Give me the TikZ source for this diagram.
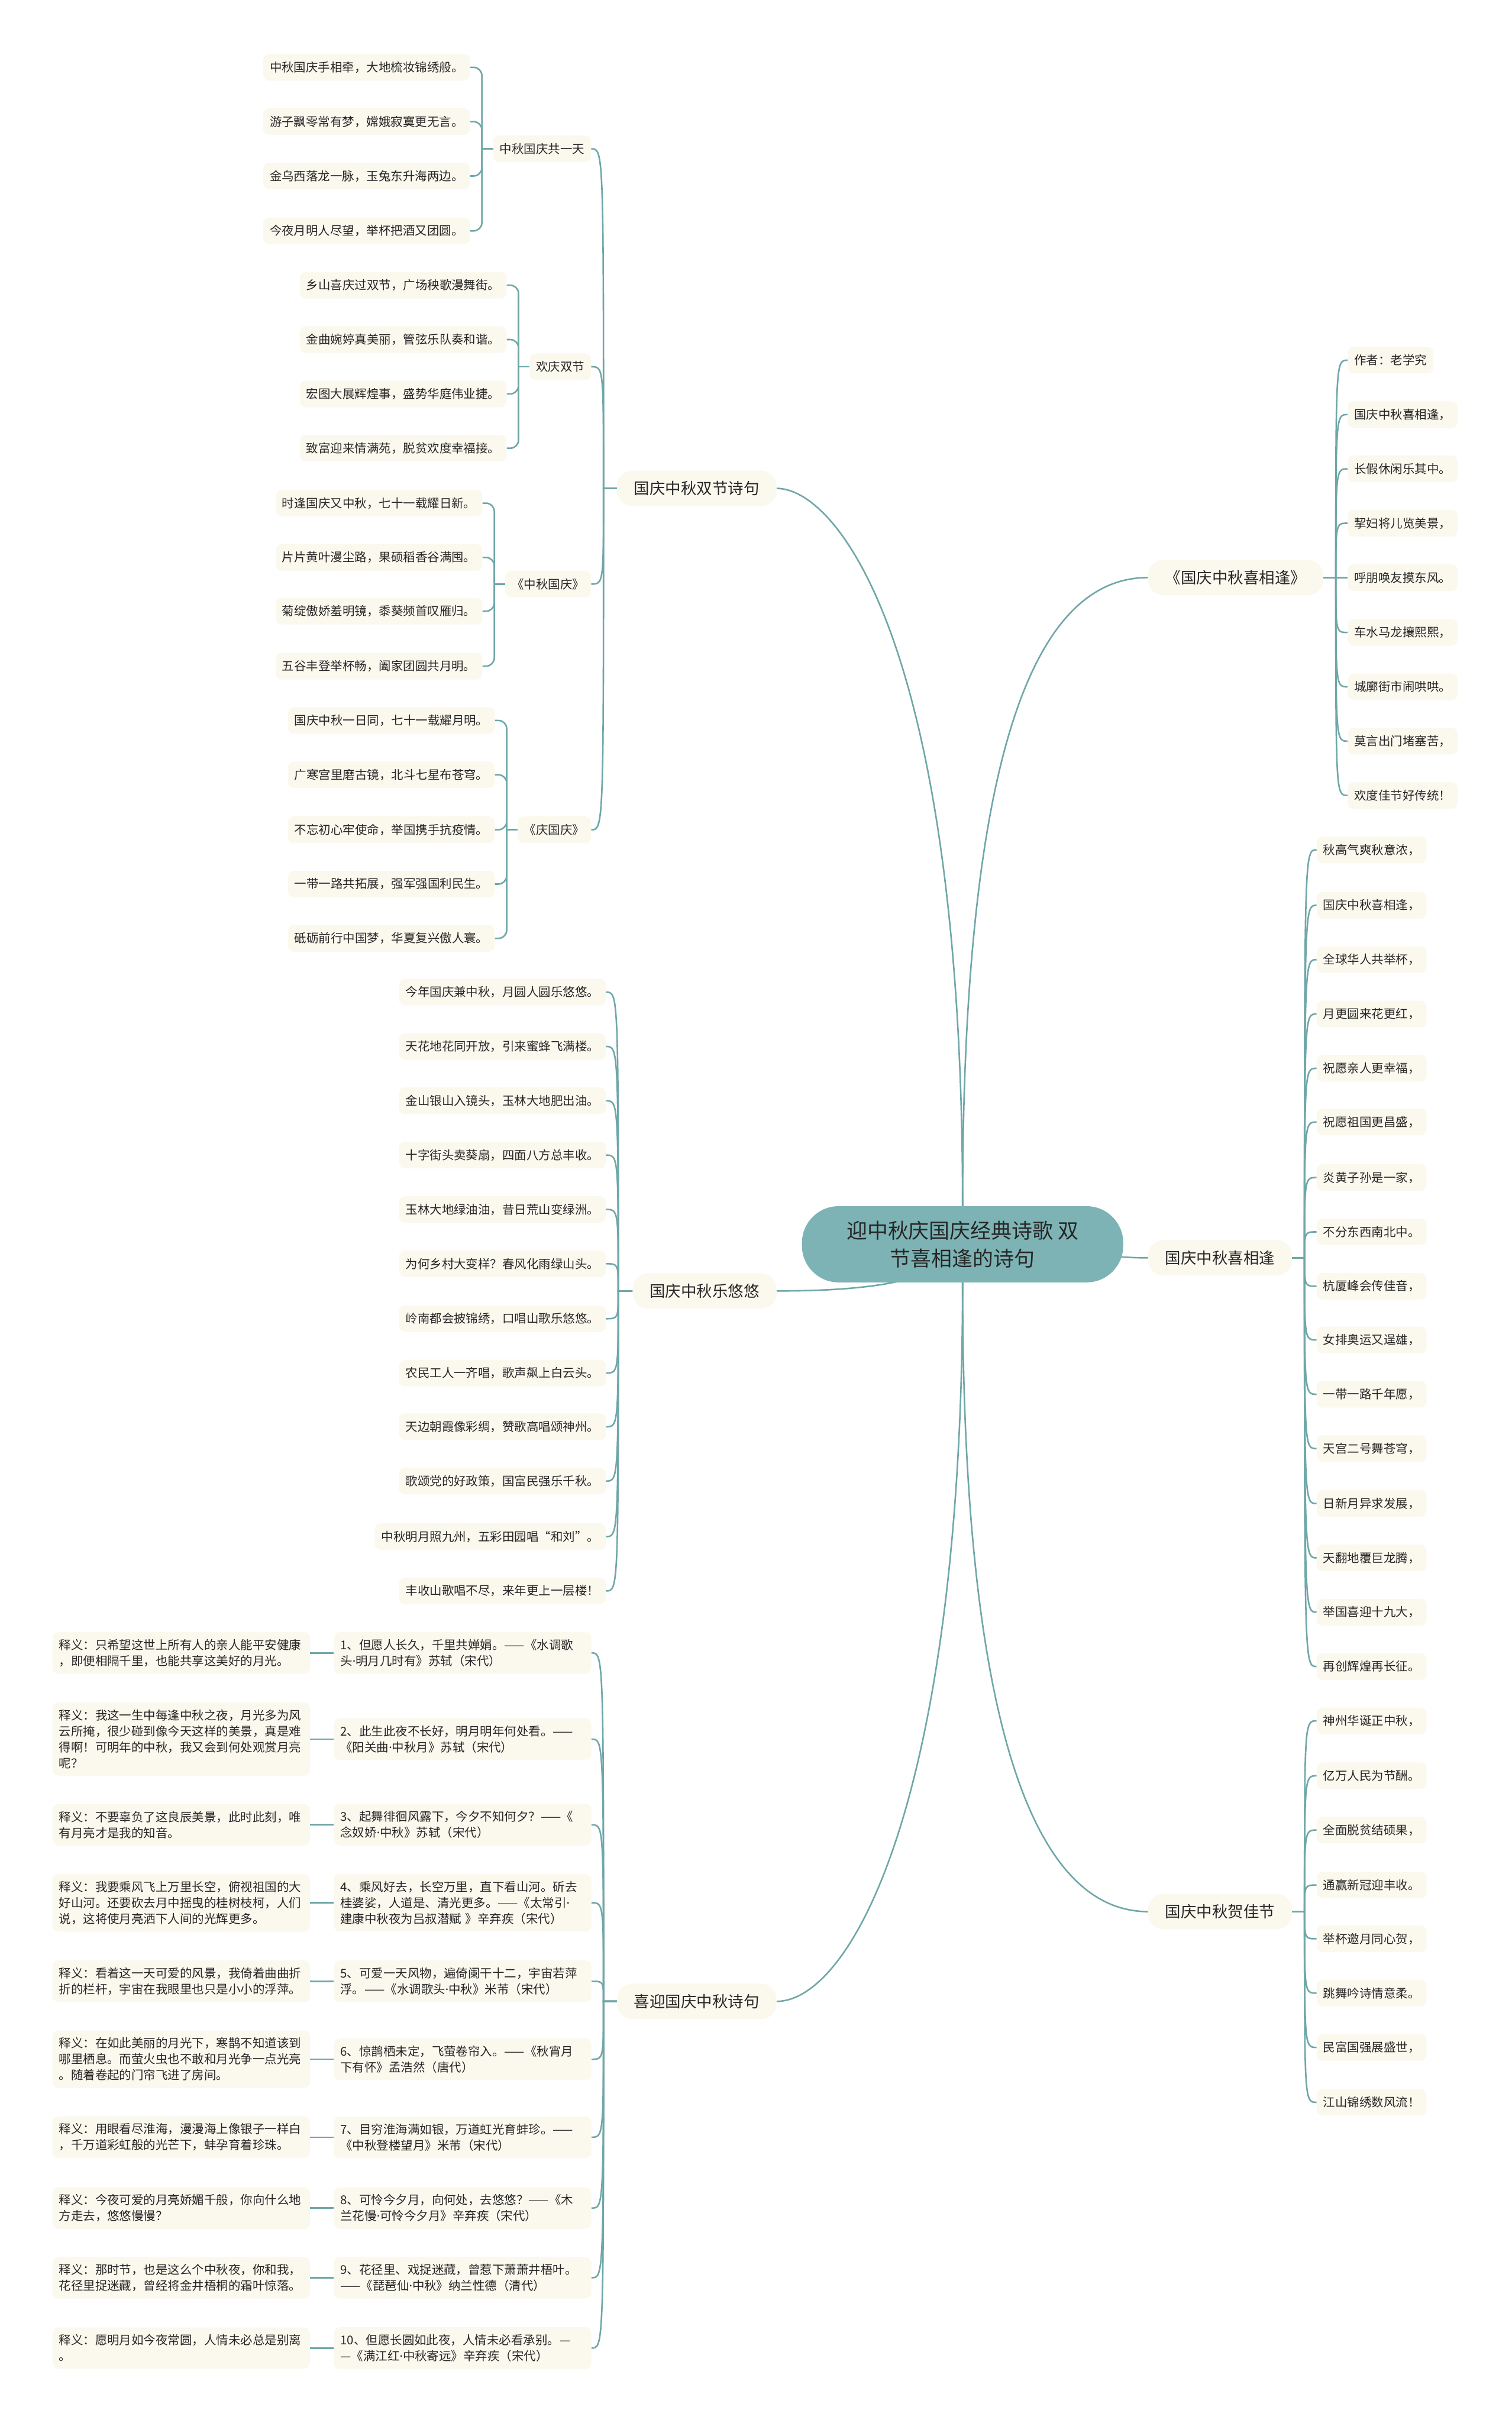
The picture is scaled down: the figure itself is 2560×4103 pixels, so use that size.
\documentclass[tikz,border=0pt]{standalone}
\usepackage{fontspec}
\setmainfont{Noto Sans CJK SC}
\newfontfamily\latinfont{Noto Sans}
\newcommand{\mdot}{{\latinfont ·}}
\usetikzlibrary{backgrounds}
\definecolor{cream}{RGB}{251,248,238}
\definecolor{linec}{RGB}{111,167,168}
\definecolor{rootc}{RGB}{125,179,180}
\definecolor{ink}{RGB}{38,38,38}
\begin{document}
\begin{tikzpicture}[x=1pt,y=-1pt,
  leafbox/.style={fill=cream, rounded corners=10pt, inner xsep=11pt, inner ysep=0pt, minimum height=45pt, text=ink, font=\fontsize{20.5}{27}\selectfont},
  para/.style={fill=cream, rounded corners=10pt, inner xsep=11pt, inner ysep=12pt, text width=414pt, align=left, text=ink, font=\fontsize{20.5}{27}\selectfont},
  branch/.style={fill=cream, rounded corners=26pt, inner xsep=29pt, inner ysep=0pt, minimum height=60pt, text=ink, font=\fontsize{26.5}{32}\selectfont},
  rootbox/.style={fill=rootc, rounded corners=62pt, minimum width=544pt, minimum height=129pt, align=center, text=ink, font=\fontsize{35}{47}\selectfont},
  conn/.style={draw=linec, line width=2.6pt}
]
\begin{scope}[on background layer]
\fill[white] (0,0) rectangle (2560,4103);
\end{scope}
\useasboundingbox (0,0) rectangle (2560,4103);

% root
\node[rootbox] (root) at (1630,2107) {迎中秋庆国庆经典诗歌 双\\节喜相逢的诗句};

% level 1
\node[branch, anchor=east] (L1a) at (1315,827) {国庆中秋双节诗句};
\node[branch, anchor=east] (L1b) at (1315,2186) {国庆中秋乐悠悠};
\node[branch, anchor=east] (L1c) at (1315,3389) {喜迎国庆中秋诗句};
\node[branch, anchor=west] (R1a) at (1944,978) {《国庆中秋喜相逢》};
\node[branch, anchor=west] (R1b) at (1944,2130) {国庆中秋喜相逢};
\node[branch, anchor=west] (R1c) at (1944,3237) {国庆中秋贺佳节};

% level 2 (left top)
\node[leafbox, anchor=east] (pa) at (1001,252) {中秋国庆共一天};
\node[leafbox, anchor=east] (pb) at (1001,621) {欢庆双节};
\node[leafbox, anchor=east] (pc) at (1001,989) {《中秋国庆》};
\node[leafbox, anchor=east] (pd) at (1001,1405) {《庆国庆》};

\node[leafbox, anchor=east] (a1) at (796,114) {中秋国庆手相牵，大地梳妆锦绣般。};
\node[leafbox, anchor=east] (a2) at (796,206) {游子飘零常有梦，嫦娥寂寞更无言。};
\node[leafbox, anchor=east] (a3) at (796,298) {金乌西落龙一脉，玉兔东升海两边。};
\node[leafbox, anchor=east] (a4) at (796,391) {今夜月明人尽望，举杯把酒又团圆。};

\node[leafbox, anchor=east] (b1) at (858,483) {乡山喜庆过双节，广场秧歌漫舞街。};
\node[leafbox, anchor=east] (b2) at (858,575) {金曲婉婷真美丽，管弦乐队奏和谐。};
\node[leafbox, anchor=east] (b3) at (858,667) {宏图大展辉煌事，盛势华庭伟业捷。};
\node[leafbox, anchor=east] (b4) at (858,759) {致富迎来情满苑，脱贫欢度幸福接。};

\node[leafbox, anchor=east] (c1) at (817,852) {时逢国庆又中秋，七十一载耀日新。};
\node[leafbox, anchor=east] (c2) at (817,944) {片片黄叶漫尘路，果硕稻香谷满囤。};
\node[leafbox, anchor=east] (c3) at (817,1035) {菊绽傲娇羞明镜，黍葵频首叹雁归。};
\node[leafbox, anchor=east] (c4) at (817,1128) {五谷丰登举杯畅，阖家团圆共月明。};

\node[leafbox, anchor=east] (d1) at (838,1220) {国庆中秋一日同，七十一载耀月明。};
\node[leafbox, anchor=east] (d2) at (838,1312) {广寒宫里磨古镜，北斗七星布苍穹。};
\node[leafbox, anchor=east] (d3) at (838,1405) {不忘初心牢使命，举国携手抗疫情。};
\node[leafbox, anchor=east] (d4) at (838,1497) {一带一路共拓展，强军强国利民生。};
\node[leafbox, anchor=east] (d5) at (838,1589) {砥砺前行中国梦，华夏复兴傲人寰。};

% 乐悠悠
\node[leafbox, anchor=east] (y1) at (1026,1680) {今年国庆兼中秋，月圆人圆乐悠悠。};
\node[leafbox, anchor=east] (y2) at (1026,1772) {天花地花同开放，引来蜜蜂飞满楼。};
\node[leafbox, anchor=east] (y3) at (1026,1864) {金山银山入镜头，玉林大地肥出油。};
\node[leafbox, anchor=east] (y4) at (1026,1956) {十字街头卖葵扇，四面八方总丰收。};
\node[leafbox, anchor=east] (y5) at (1026,2048) {玉林大地绿油油，昔日荒山变绿洲。};
\node[leafbox, anchor=east] (y6) at (1026,2140) {为何乡村大变样？春风化雨绿山头。};
\node[leafbox, anchor=east] (y7) at (1026,2233) {岭南都会披锦绣，口唱山歌乐悠悠。};
\node[leafbox, anchor=east] (y8) at (1026,2325) {农民工人一齐唱，歌声飙上白云头。};
\node[leafbox, anchor=east] (y9) at (1026,2416) {天边朝霞像彩绸，赞歌高唱颂神州。};
\node[leafbox, anchor=east] (y10) at (1026,2508) {歌颂党的好政策，国富民强乐千秋。};
\node[leafbox, anchor=east] (y11) at (1026,2602) {中秋明月照九州，五彩田园唱“和刘”。};
\node[leafbox, anchor=east] (y12) at (1026,2694) {丰收山歌唱不尽，来年更上一层楼！};

% poems
\node[para, anchor=east] (p1) at (1001.6,2799) {1、但愿人长久，千里共婵娟。——《水调歌\\头\mdot 明月几时有》苏轼（宋代）};
\node[para, anchor=east] (p2) at (1001.6,2945) {2、此生此夜不长好，明月明年何处看。——\\《阳关曲\mdot 中秋月》苏轼（宋代）};
\node[para, anchor=east] (p3) at (1001.6,3090) {3、起舞徘徊风露下，今夕不知何夕？——《\\念奴娇\mdot 中秋》苏轼（宋代）};
\node[para, anchor=east] (p4) at (1001.6,3222) {4、乘风好去，长空万里，直下看山河。斫去\\桂婆娑，人道是、清光更多。——《太常引\mdot\\建康中秋夜为吕叔潜赋 》辛弃疾（宋代）};
\node[para, anchor=east] (p5) at (1001.6,3355) {5、可爱一天风物，遍倚阑干十二，宇宙若萍\\浮。——《水调歌头\mdot 中秋》米芾（宋代）};
\node[para, anchor=east] (p6) at (1001.6,3487) {6、惊鹊栖未定，飞萤卷帘入。——《秋宵月\\下有怀》孟浩然（唐代）};
\node[para, anchor=east] (p7) at (1001.6,3619) {7、目穷淮海满如银，万道虹光育蚌珍。——\\《中秋登楼望月》米芾（宋代）};
\node[para, anchor=east] (p8) at (1001.6,3739) {8、可怜今夕月，向何处，去悠悠？——《木\\兰花慢\mdot 可怜今夕月》辛弃疾（宋代）};
\node[para, anchor=east] (p9) at (1001.6,3857) {9、花径里、戏捉迷藏，曾惹下萧萧井梧叶。\\——《琵琶仙\mdot 中秋》纳兰性德（清代）};
\node[para, anchor=east] (p10) at (1001.6,3976) {10、但愿长圆如此夜，人情未必看承别。—\\—《满江红\mdot 中秋寄远》辛弃疾（宋代）};

% explanations
\node[para, anchor=east] (e1) at (525,2799) {释义：只希望这世上所有人的亲人能平安健康\\，即便相隔千里，也能共享这美好的月光。};
\node[para, anchor=east] (e2) at (525,2945) {释义：我这一生中每逢中秋之夜，月光多为风\\云所掩，很少碰到像今天这样的美景，真是难\\得啊！可明年的中秋，我又会到何处观赏月亮\\呢？};
\node[para, anchor=east] (e3) at (525,3090) {释义：不要辜负了这良辰美景，此时此刻，唯\\有月亮才是我的知音。};
\node[para, anchor=east] (e4) at (525,3222) {释义：我要乘风飞上万里长空，俯视祖国的大\\好山河。还要砍去月中摇曳的桂树枝柯，人们\\说，这将使月亮洒下人间的光辉更多。};
\node[para, anchor=east] (e5) at (525,3355) {释义：看着这一天可爱的风景，我倚着曲曲折\\折的栏杆，宇宙在我眼里也只是小小的浮萍。};
\node[para, anchor=east] (e6) at (525,3487) {释义：在如此美丽的月光下，寒鹊不知道该到\\哪里栖息。而萤火虫也不敢和月光争一点光亮\\。随着卷起的门帘飞进了房间。};
\node[para, anchor=east] (e7) at (525,3619) {释义：用眼看尽淮海，漫漫海上像银子一样白\\，千万道彩虹般的光芒下，蚌孕育着珍珠。};
\node[para, anchor=east] (e8) at (525,3739) {释义：今夜可爱的月亮娇媚千般，你向什么地\\方走去，悠悠慢慢？};
\node[para, anchor=east] (e9) at (525,3857) {释义：那时节，也是这么个中秋夜，你和我，\\花径里捉迷藏，曾经将金井梧桐的霜叶惊落。};
\node[para, anchor=east] (e10) at (525,3976) {释义：愿明月如今夜常圆，人情未必总是别离\\。};

% right top
\node[leafbox, anchor=west] (s1) at (2282,610) {作者：老学究};
\node[leafbox, anchor=west] (s2) at (2282,702) {国庆中秋喜相逢，};
\node[leafbox, anchor=west] (s3) at (2282,794) {长假休闲乐其中。};
\node[leafbox, anchor=west] (s4) at (2282,886) {挈妇将儿览美景，};
\node[leafbox, anchor=west] (s5) at (2282,978) {呼朋唤友摸东风。};
\node[leafbox, anchor=west] (s6) at (2282,1071) {车水马龙攘熙熙，};
\node[leafbox, anchor=west] (s7) at (2282,1163) {城廓街市闹哄哄。};
\node[leafbox, anchor=west] (s8) at (2282,1255) {莫言出门堵塞苦，};
\node[leafbox, anchor=west] (s9) at (2282,1347) {欢度佳节好传统！};

% right middle
\node[leafbox, anchor=west] (t1) at (2229.5,1439) {秋高气爽秋意浓，};
\node[leafbox, anchor=west] (t2) at (2229.5,1533) {国庆中秋喜相逢，};
\node[leafbox, anchor=west] (t3) at (2229.5,1625) {全球华人共举杯，};
\node[leafbox, anchor=west] (t4) at (2229.5,1717) {月更圆来花更红，};
\node[leafbox, anchor=west] (t5) at (2229.5,1809) {祝愿亲人更幸福，};
\node[leafbox, anchor=west] (t6) at (2229.5,1900) {祝愿祖国更昌盛，};
\node[leafbox, anchor=west] (t7) at (2229.5,1994) {炎黄子孙是一家，};
\node[leafbox, anchor=west] (t8) at (2229.5,2086) {不分东西南北中。};
\node[leafbox, anchor=west] (t9) at (2229.5,2178) {杭厦峰会传佳音，};
\node[leafbox, anchor=west] (t10) at (2229.5,2269) {女排奥运又逞雄，};
\node[leafbox, anchor=west] (t11) at (2229.5,2361) {一带一路千年愿，};
\node[leafbox, anchor=west] (t12) at (2229.5,2453) {天宫二号舞苍穹，};
\node[leafbox, anchor=west] (t13) at (2229.5,2546) {日新月异求发展，};
\node[leafbox, anchor=west] (t14) at (2229.5,2638) {天翻地覆巨龙腾，};
\node[leafbox, anchor=west] (t15) at (2229.5,2730) {举国喜迎十九大，};
\node[leafbox, anchor=west] (t16) at (2229.5,2822) {再创辉煌再长征。};

% right bottom
\node[leafbox, anchor=west] (h1) at (2229.5,2914) {神州华诞正中秋，};
\node[leafbox, anchor=west] (h2) at (2229.5,3007) {亿万人民为节酬。};
\node[leafbox, anchor=west] (h3) at (2229.5,3099) {全面脱贫结硕果，};
\node[leafbox, anchor=west] (h4) at (2229.5,3192) {通赢新冠迎丰收。};
\node[leafbox, anchor=west] (h5) at (2229.5,3283) {举杯邀月同心贺，};
\node[leafbox, anchor=west] (h6) at (2229.5,3375) {跳舞吟诗情意柔。};
\node[leafbox, anchor=west] (h7) at (2229.5,3467) {民富国强展盛世，};
\node[leafbox, anchor=west] (h8) at (2229.5,3560) {江山锦绣数风流！};

% helper x-positions
\coordinate (barA) at (816,0);
\coordinate (barB) at (878,0);
\coordinate (barC) at (837,0);
\coordinate (barD) at (858,0);
\coordinate (xmG1) at (1022,0);
\coordinate (xmG2) at (1047,0);
\coordinate (xmG3) at (1022,0);
\coordinate (xmG4) at (2262,0);
\coordinate (xmG5) at (2209,0);

\begin{scope}[on background layer]
% root connectors
\draw[conn] (root) .. controls (1630,1100) and (1420,827) .. (L1a.east);
\draw[conn] (root.center) .. controls (1600,2180) and (1420,2186) .. (L1b.east);
\draw[conn] (root) .. controls (1630,3050) and (1440,3389) .. (L1c.east);
\draw[conn] (root) .. controls (1630,1250) and (1760,978) .. (R1a.west);
\draw[conn] (root.center) .. controls (1800,2110) and (1850,2130) .. (R1b.west);
\draw[conn] (root) .. controls (1630,2950) and (1760,3237) .. (R1c.west);

% group 1 fan
\foreach \c in {pa,pb,pc,pd}
  \draw[conn] (L1a.west) -- (xmG1 |- L1a.west) .. controls (xmG1 |- \c.east) .. (\c.east);
% brackets
\foreach \c in {a1,a2,a3,a4}
  \draw[conn, rounded corners=14pt] (\c.east) -| (barA |- pa.west);
\draw[conn] (barA |- pa.west) -- (pa.west);
\foreach \c in {b1,b2,b3,b4}
  \draw[conn, rounded corners=14pt] (\c.east) -| (barB |- pb.west);
\draw[conn] (barB |- pb.west) -- (pb.west);
\foreach \c in {c1,c2,c3,c4}
  \draw[conn, rounded corners=14pt] (\c.east) -| (barC |- pc.west);
\draw[conn] (barC |- pc.west) -- (pc.west);
\foreach \c in {d1,d2,d3,d4,d5}
  \draw[conn, rounded corners=14pt] (\c.east) -| (barD |- pd.west);
\draw[conn] (barD |- pd.west) -- (pd.west);

% group 2 fan
\foreach \c in {y1,y2,y3,y4,y5,y6,y7,y8,y9,y10,y11,y12}
  \draw[conn] (L1b.west) -- (xmG2 |- L1b.west) .. controls (xmG2 |- \c.east) .. (\c.east);
% group 3 fan
\foreach \c in {p1,p2,p3,p4,p5,p6,p7,p8,p9,p10}
  \draw[conn] (L1c.west) -- (xmG3 |- L1c.west) .. controls (xmG3 |- \c.east) .. (\c.east);
\foreach \i in {1,...,10}
  \draw[conn] (p\i.west) -- (e\i.east);
% right fans
\foreach \c in {s1,s2,s3,s4,s5,s6,s7,s8,s9}
  \draw[conn] (R1a.east) -- (xmG4 |- R1a.east) .. controls (xmG4 |- \c.west) .. (\c.west);
\foreach \c in {t1,t2,t3,t4,t5,t6,t7,t8,t9,t10,t11,t12,t13,t14,t15,t16}
  \draw[conn] (R1b.east) -- (xmG5 |- R1b.east) .. controls (xmG5 |- \c.west) .. (\c.west);
\foreach \c in {h1,h2,h3,h4,h5,h6,h7,h8}
  \draw[conn] (R1c.east) -- (xmG5 |- R1c.east) .. controls (xmG5 |- \c.west) .. (\c.west);
\end{scope}
\end{tikzpicture}
\end{document}
